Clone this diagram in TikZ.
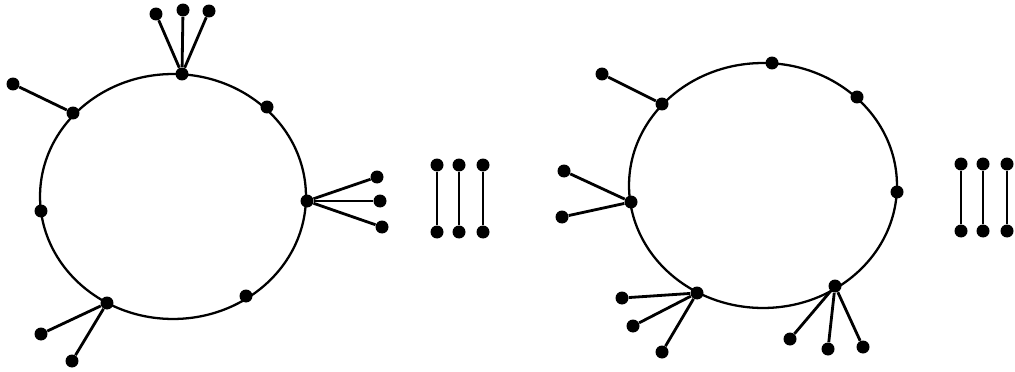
\documentclass[tikz,border=0pt]{standalone}
\usepackage{tikz}
\usetikzlibrary{positioning, calc}

\tikzset{
    dot/.style={circle, fill=black, inner sep=0pt, minimum width=0.26cm, minimum height=0.23cm},
    ring/.style={line width=1.3pt},
    twig/.style={line width=1.6pt}
}

\begin{document}
\begin{tikzpicture}[x=0.02cm, y=-0.02cm]
    \useasboundingbox (0,0) rectangle (1015,372);
    % left ring
    \begin{scope}
    \draw[ring] (173,196.5) ellipse [x radius=2.66cm, y radius=2.45cm];
    \node[dot] (lt) at (182,74) {};
    \node[dot] (lt1) at (156,14) {};
    \node[dot] (lt2) at (183,10) {};
    \node[dot] (lt3) at (209,11) {};
    \draw[twig] (lt) -- (lt1);
    \draw[twig] (lt) -- (lt2);
    \draw[twig] (lt) -- (lt3);
    \node[dot] (lul) at (73,113) {};
    \node[dot] (lul1) at (13,84) {};
    \draw[twig] (lul) -- (lul1);
    \node[dot] (lur) at (267,107) {};
    \node[dot] (ll) at (41,211) {};
    \node[dot] (lr) at (307,201) {};
    \node[dot] (lr1) at (377,177) {};
    \node[dot] (lr2) at (380,201) {};
    \node[dot] (lr3) at (382,227) {};
    \draw[twig] (lr) -- (lr1);
    \draw[twig] (lr) -- (lr2);
    \draw[twig] (lr) -- (lr3);
    \node[dot] (llr) at (246,296) {};
    \node[dot] (lll) at (107,303) {};
    \node[dot] (lll1) at (41,334) {};
    \node[dot] (lll2) at (72,361) {};
    \draw[twig] (lll) -- (lll1);
    \draw[twig] (lll) -- (lll2);
    \end{scope}
    % left bars
    \foreach \x [count=\i] in {437,459,483} {
        \node[dot] (lbt\i) at (\x,165) {};
        \node[dot] (lbb\i) at (\x,232) {};
        \draw[twig] (lbt\i) -- (lbb\i);
    }
    % right ring
    \begin{scope}
    \draw[ring] (763,185.5) ellipse [x radius=2.68cm, y radius=2.45cm];
    \node[dot] (rt) at (772,63) {};
    \node[dot] (rur) at (857,97) {};
    \node[dot] (rr) at (897,192) {};
    \node[dot] (rul) at (662,104) {};
    \node[dot] (rul1) at (602,74) {};
    \draw[twig] (rul) -- (rul1);
    \node[dot] (rl) at (631,202) {};
    \node[dot] (rl1) at (564,171) {};
    \node[dot] (rl2) at (562,217) {};
    \draw[twig] (rl) -- (rl1);
    \draw[twig] (rl) -- (rl2);
    \node[dot] (rll) at (697,293) {};
    \node[dot] (rll1) at (622,298) {};
    \node[dot] (rll2) at (633,326) {};
    \node[dot] (rll3) at (662,352) {};
    \draw[twig] (rll) -- (rll1);
    \draw[twig] (rll) -- (rll2);
    \draw[twig] (rll) -- (rll3);
    \node[dot] (rlr) at (835,286) {};
    \node[dot] (rlr1) at (790,339) {};
    \node[dot] (rlr2) at (828,349) {};
    \node[dot] (rlr3) at (863,347) {};
    \draw[twig] (rlr) -- (rlr1);
    \draw[twig] (rlr) -- (rlr2);
    \draw[twig] (rlr) -- (rlr3);
    \end{scope}
    % right bars
    \foreach \x [count=\i] in {961,983,1007} {
        \node[dot] (rbt\i) at (\x,164) {};
        \node[dot] (rbb\i) at (\x,231) {};
        \draw[twig] (rbt\i) -- (rbb\i);
    }
\end{tikzpicture}
\end{document}
